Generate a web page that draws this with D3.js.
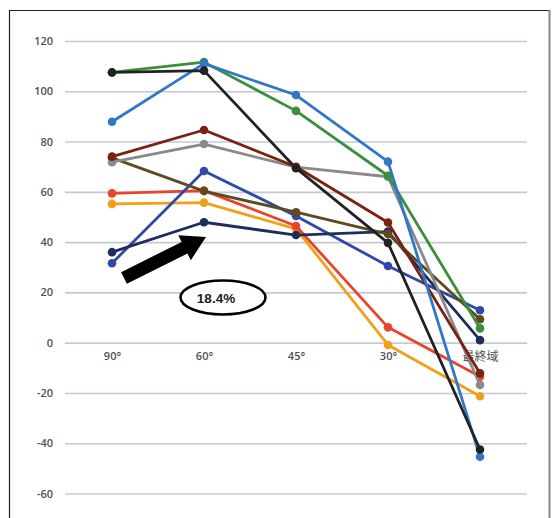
<!DOCTYPE html>
<html>
<head>
<meta charset="utf-8">
<script src="https://cdn.jsdelivr.net/npm/d3@7/dist/d3.min.js"></script>
<style>
  html, body { margin: 0; padding: 0; background: #fff; }
  svg { display: block; }
</style>
</head>
<body>
<svg id="chart" width="552" height="518"></svg>
<script>
// ---- data ----
const categories = ["90°", "60°", "45°", "30°", "最終域"];
const yTicks = [120, 100, 80, 60, 40, 20, 0, -20, -40, -60];

const seriesNames = ["s1", "s2", "s3", "s4", "s5", "s6", "s7", "s8", "s9", "s10"];
const seriesColors = ["#f0a01a", "#e8452c", "#3048a8", "#1f2d5e", "#5e4a1e", "#8a8a8a", "#7a2210", "#3a8f3a", "#2f78c8", "#222222"];
const s1 = [55.2, 55.7, 45.3, -0.9, -21.3];   // orange
const s2 = [59.4, 60.5, 46.4, 6.1, -13.5];    // red
const s3 = [31.6, 68.3, 50.4, 30.5, 12.9];    // royal blue
const s4 = [36.0, 47.9, 42.8, 44.2, 1.0];     // dark navy
const s5 = [73.5, 60.3, 51.9, 43.2, 9.3];     // olive brown
const s6 = [71.8, 79.0, 69.8, 66.0, -16.8];   // gray
const s7 = [74.0, 84.6, 70.0, 47.8, -12.2];   // dark red
const s8 = [107.5, 111.6, 92.2, 66.4, 5.7];   // green
const s9 = [87.9, 111.0, 98.5, 72.0, -45.4];  // blue
const s10 = [107.5, 108.2, 69.4, 39.7, -42.5];// black
const seriesValues = [s1, s2, s3, s4, s5, s6, s7, s8, s9, s10];

const annotationText = "18.4%";

// ---- layout ----
const svg = d3.select("#chart");
const W = 552, H = 518;

const x = d3.scalePoint().domain(categories).range([112, 480]);
const y = d3.scaleLinear().domain([-60, 120]).range([493.5, 41]);

// frame
svg.append("line").attr("x1", 9).attr("y1", 10.5).attr("x2", 550).attr("y2", 10.5)
  .attr("stroke", "#222").attr("stroke-width", 1.2);
svg.append("line").attr("x1", 9.5).attr("y1", 10).attr("x2", 9.5).attr("y2", H)
  .attr("stroke", "#222").attr("stroke-width", 1.2);
svg.append("line").attr("x1", 549.5).attr("y1", 10).attr("x2", 549.5).attr("y2", H)
  .attr("stroke", "#888").attr("stroke-width", 2);

// gridlines
const yAxis = d3.axisLeft(y).tickValues(yTicks).tickFormat(d => String(d))
  .tickSize(-(527 - 65)).tickPadding(12);
const gy = svg.append("g").attr("transform", "translate(65,0)").call(yAxis);
gy.select(".domain").remove();
gy.selectAll(".tick line").attr("stroke", "#c6c8d6").attr("stroke-width", 1.6);
gy.selectAll(".tick text")
  .attr("fill", "#505050")
  .attr("font-family", "'Open Sans', 'Liberation Sans', sans-serif")
  .attr("font-size", 11)
  .attr("font-weight", 600);

// x axis labels (no line; located just below zero line)
const xAxis = d3.axisBottom(x).tickSize(0).tickPadding(10);
const gx = svg.append("g").attr("transform", `translate(0,${y(0)})`).call(xAxis);
gx.select(".domain").remove();
gx.selectAll(".tick text")
  .attr("fill", "#505050")
  .attr("font-family", "'Open Sans', 'Noto Sans CJK JP', sans-serif")
  .attr("font-size", 11)
  .attr("font-weight", 600);
gx.selectAll(".tick text").filter(d => d === "最終域")
  .attr("font-family", "'Noto Sans CJK JP', sans-serif")
  .attr("font-weight", 400)
  .attr("font-size", 12);

// series lines
const line = d3.line().x((d, i) => x(categories[i])).y(d => y(d));
seriesValues.forEach((vals, k) => {
  const g = svg.append("g").attr("class", "series " + seriesNames[k]);
  g.append("path").datum(vals)
    .attr("d", line)
    .attr("fill", "none")
    .attr("stroke", seriesColors[k])
    .attr("stroke-width", 2.8)
    .attr("stroke-linejoin", "round");
  g.selectAll("circle").data(vals).join("circle")
    .attr("cx", (d, i) => x(categories[i]))
    .attr("cy", d => y(d))
    .attr("r", 4.3)
    .attr("fill", seriesColors[k]);
});

// arrow annotation
const tail = [124, 278], tip = [206, 237];
const dx = tip[0] - tail[0], dy = tip[1] - tail[1];
const len = Math.hypot(dx, dy);
const ang = Math.atan2(dy, dx) * 180 / Math.PI;
const headLen = 24, shaftHalf = 6.5, headHalf = 14;
svg.append("path")
  .attr("transform", `translate(${tail[0]},${tail[1]}) rotate(${ang})`)
  .attr("d", `M0,${-shaftHalf} L${len - headLen},${-shaftHalf} L${len - headLen},${-headHalf} L${len},0 L${len - headLen},${headHalf} L${len - headLen},${shaftHalf} L0,${shaftHalf} Z`)
  .attr("fill", "#000");

// ellipse with text
svg.append("ellipse")
  .attr("cx", 223).attr("cy", 297.5).attr("rx", 42.5).attr("ry", 17)
  .attr("fill", "#fff").attr("stroke", "#000").attr("stroke-width", 2.6);
svg.append("text")
  .attr("x", 216).attr("y", 303)
  .attr("text-anchor", "middle")
  .attr("font-family", "'Liberation Sans', Arial, sans-serif")
  .attr("font-weight", "bold")
  .attr("font-size", 13.5)
  .attr("fill", "#222")
  .text(annotationText);
</script>
</body>
</html>
